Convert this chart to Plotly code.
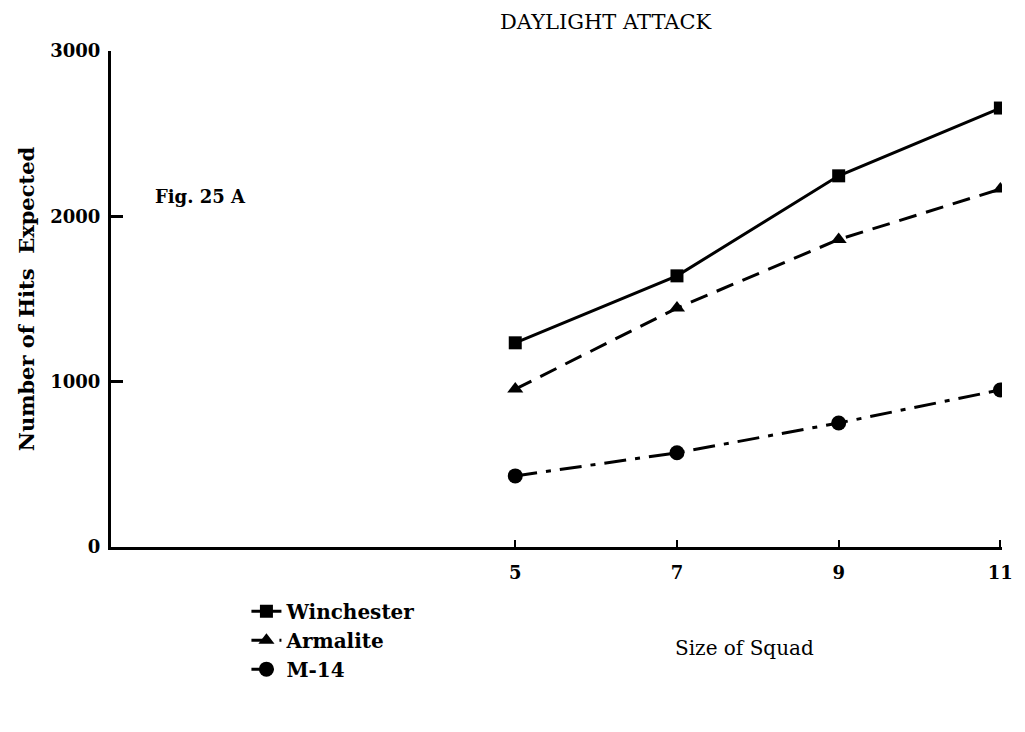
import plotly.graph_objects as go

squad_size = [5, 7, 9, 11]
winchester = [1235, 1640, 2245, 2655]
armalite = [955, 1445, 1860, 2165]
m14 = [430, 570, 750, 950]

x_ticks = [5, 7, 9, 11]
y_ticks = [0, 1000, 2000, 3000]

serif = "DejaVu Serif, serif"

fig = go.Figure()
fig.add_trace(go.Scatter(x=squad_size, y=winchester, name="Winchester", mode="lines+markers",
                         line=dict(color="black", width=3),
                         marker=dict(symbol="square", size=13, color="black")))
fig.add_trace(go.Scatter(x=squad_size, y=armalite, name="Armalite", mode="lines+markers",
                         line=dict(color="black", width=3, dash="18px,10px"),
                         marker=dict(symbol="triangle-up", size=14, color="black")))
fig.add_trace(go.Scatter(x=squad_size, y=m14, name="M-14", mode="lines+markers",
                         line=dict(color="black", width=3, dash="22px,9px,5px,9px"),
                         marker=dict(symbol="circle", size=15, color="black")))

fig.update_layout(
    width=1017, height=724,
    margin=dict(l=103, r=17, t=43, b=185),
    paper_bgcolor="white", plot_bgcolor="white",
    font=dict(family=serif, color="black", size=16),
    showlegend=True,
    legend=dict(x=0.152, y=-0.09, xanchor="left", yanchor="top",
                font=dict(family=serif, size=20, color="black", weight="bold"),
                tracegroupgap=0, bgcolor="rgba(0,0,0,0)"),
    xaxis=dict(range=[0, 11.02], tickvals=x_ticks, ticktext=[str(v) for v in x_ticks],
               showgrid=False, zeroline=False, showline=True, linecolor="black", linewidth=3,
               ticks="inside", ticklen=7, tickwidth=2, tickcolor="black",
               tickfont=dict(family=serif, size=18, weight="bold"), ticklabelstandoff=7),
    yaxis=dict(range=[0, 3000], tickvals=y_ticks, ticktext=[str(v) for v in y_ticks],
               showgrid=False, zeroline=False, showline=True, linecolor="black", linewidth=3,
               ticks="inside", ticklen=12, tickwidth=3, tickcolor="black",
               tickfont=dict(family=serif, size=18, weight="bold"), ticklabelstandoff=4,
               title=dict(text="Number of Hits  Expected", font=dict(family=serif, size=21, weight="bold"),
                          standoff=10)),
    annotations=[
        dict(text="DAYLIGHT ATTACK", x=0.555, y=1.058, xref="paper", yref="paper",
             xanchor="center", yanchor="middle",
             showarrow=False, font=dict(family=serif, size=21)),
        dict(text="<b>Fig. 25 A</b>", x=0.047, y=2123, xref="paper", yref="y",
             xanchor="left", yanchor="middle", showarrow=False, font=dict(family=serif, size=18)),
        dict(text="Size of Squad", x=0.711, y=-0.204, xref="paper", yref="paper",
             xanchor="center", yanchor="middle",
             showarrow=False, font=dict(family=serif, size=20)),
    ],
)

fig.write_html("out.html")
